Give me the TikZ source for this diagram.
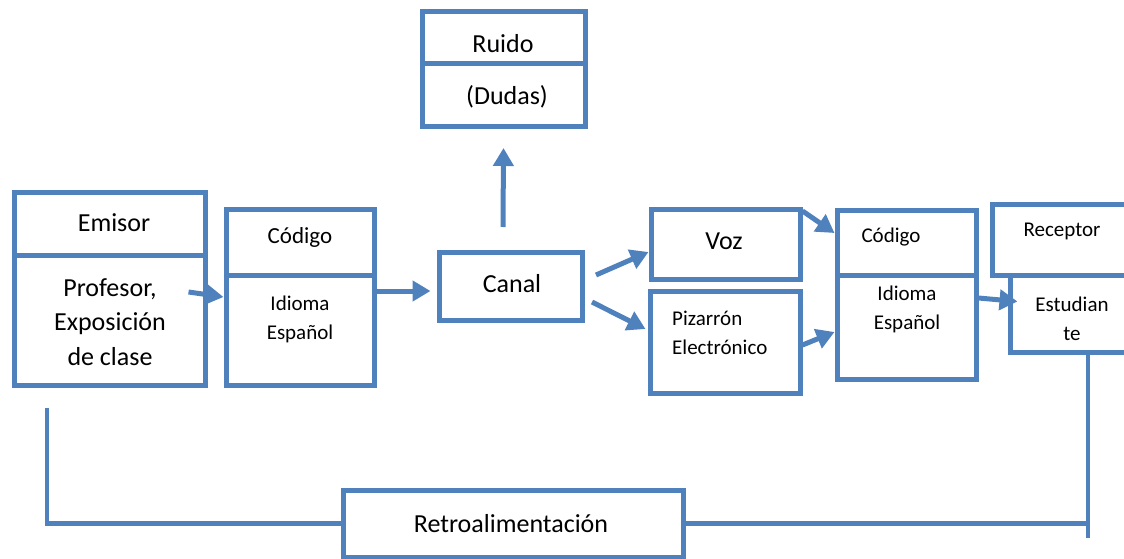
\documentclass[tikz,border=0pt]{standalone}
\usepackage{fontspec}
\setmainfont{Carlito}
\usetikzlibrary{arrows.meta}
\definecolor{boxblue}{HTML}{4F81BD}
\tikzset{
	box/.style 2 args={draw=boxblue, line width=5pt, inner sep=0pt, minimum width=#1pt, minimum height=#2pt},
	arrow/.style={draw=boxblue, line width=5pt, -{Triangle[length=18pt,width=20pt]}},
	feedback/.style={draw=boxblue, line width=4.5pt},
	big/.style={font=\fontsize{26}{34.5}\selectfont, inner sep=0pt},
	small/.style={font=\fontsize{21}{29}\selectfont, inner sep=0pt},
}
\begin{document}
\begin{tikzpicture}[x=1pt,y=-1pt]
	\clip (0,0) rectangle (1124,559);
	% boxes
	\node[box={191}{63}] (emisorTop) at (109.5,223.5) {};
	\node[box={191}{130}] (emisorBot) at (109.5,320) {};
	\node[box={148}{66}] (codigoTop) at (300,242) {};
	\node[box={148}{110}] (codigoBot) at (300,330) {};
	\node[box={163}{52}] (ruidoTop) at (503.5,38) {};
	\node[box={163}{63}] (ruidoBot) at (503.5,95.5) {};
	\node[box={143}{68}] (canal) at (510.5,286) {};
	\node[box={149}{70}] (voz) at (725.5,244) {};
	\node[box={150}{102}] (pizarron) at (725,342) {};
	\node[box={139}{65}] (codigoBTop) at (906.5,242.5) {};
	\node[box={139}{104}] (codigoBBot) at (906.5,327) {};
	\node[box={148}{71}] (receptor) at (1066,239.5) {};
	\node[box={130}{77}] (estudiante) at (1075,313.5) {};
	\node[box={340}{67}] (retro) at (513,523.5) {};
	% texts
	\node[big] (tEmisor) at (114,223) {Emisor};
	\node[big, align=center] (tProfesor) at (110,322) {Profesor,\\Exposición\\de clase};
	\node[small, font=\fontsize{23}{29}\selectfont] (tCodigo) at (300,237) {Código};
	\node[small, align=center] (tIdioma) at (300,319) {Idioma\\Español};
	\node[big] (tRuido) at (503,44) {Ruido};
	\node[big] (tDudas) at (507,97) {(Dudas)};
	\node[big] (tCanal) at (512,284) {Canal};
	\node[big] (tVoz) at (724,241) {Voz};
	\node[small, align=left, anchor=west] (tPizarron) at (672,333) {Pizarrón\\Electrónico};
	\node[small] (tCodigoB) at (891,237) {Código};
	\node[small, align=center] (tIdiomaB) at (907,309) {Idioma\\Español};
	\node[small] (tReceptor) at (1062,231) {Receptor};
	\node[small, align=center] (tEstudiante) at (1072,319) {Estudian\\te};
	\node[big] (tRetro) at (511,524) {Retroalimentación};
	% arrows
	\draw[arrow] ([shift={(-19,-28)}]emisorBot.east) -- ([shift={(0,-33)}]codigoBot.west);
	\draw[arrow] ([shift={(0,-39)}]codigoBot.east) -- ([shift={(-6,5)}]canal.west);
	\draw[arrow] ([shift={(-7.5,-22.5)}]canal.north) -- ([shift={(0,18.5)}]ruidoBot.south);
	\draw[arrow] ([shift={(11.5,-11)}]canal.east) -- ([shift={(0,8)}]voz.west);
	\draw[arrow] ([shift={(7.5,16)}]canal.east) -- ([shift={(-2,-13)}]pizarron.west);
	\draw[arrow] ([shift={(0,4.5)}]voz.north east) -- ([shift={(0,-9.5)}]codigoBTop.west);
	\draw[arrow] ([shift={(0,3)}]pizarron.east) -- ([shift={(0,5)}]codigoBBot.west);
	\draw[arrow] ([shift={(0,-29)}]codigoBBot.east) -- ([shift={(10,-12)}]estudiante.west);
	% feedback loop
	\coordinate (tail) at ([shift={(13,183)}]estudiante.south);
	\draw[feedback] ([shift={(-62.5,20.5)}]emisorBot.south) |- (retro.west);
	\draw[feedback] ([shift={(13,0)}]estudiante.south) -- (tail);
	\draw[feedback] (retro.east) -- (retro.east -| tail);
\end{tikzpicture}
\end{document}
